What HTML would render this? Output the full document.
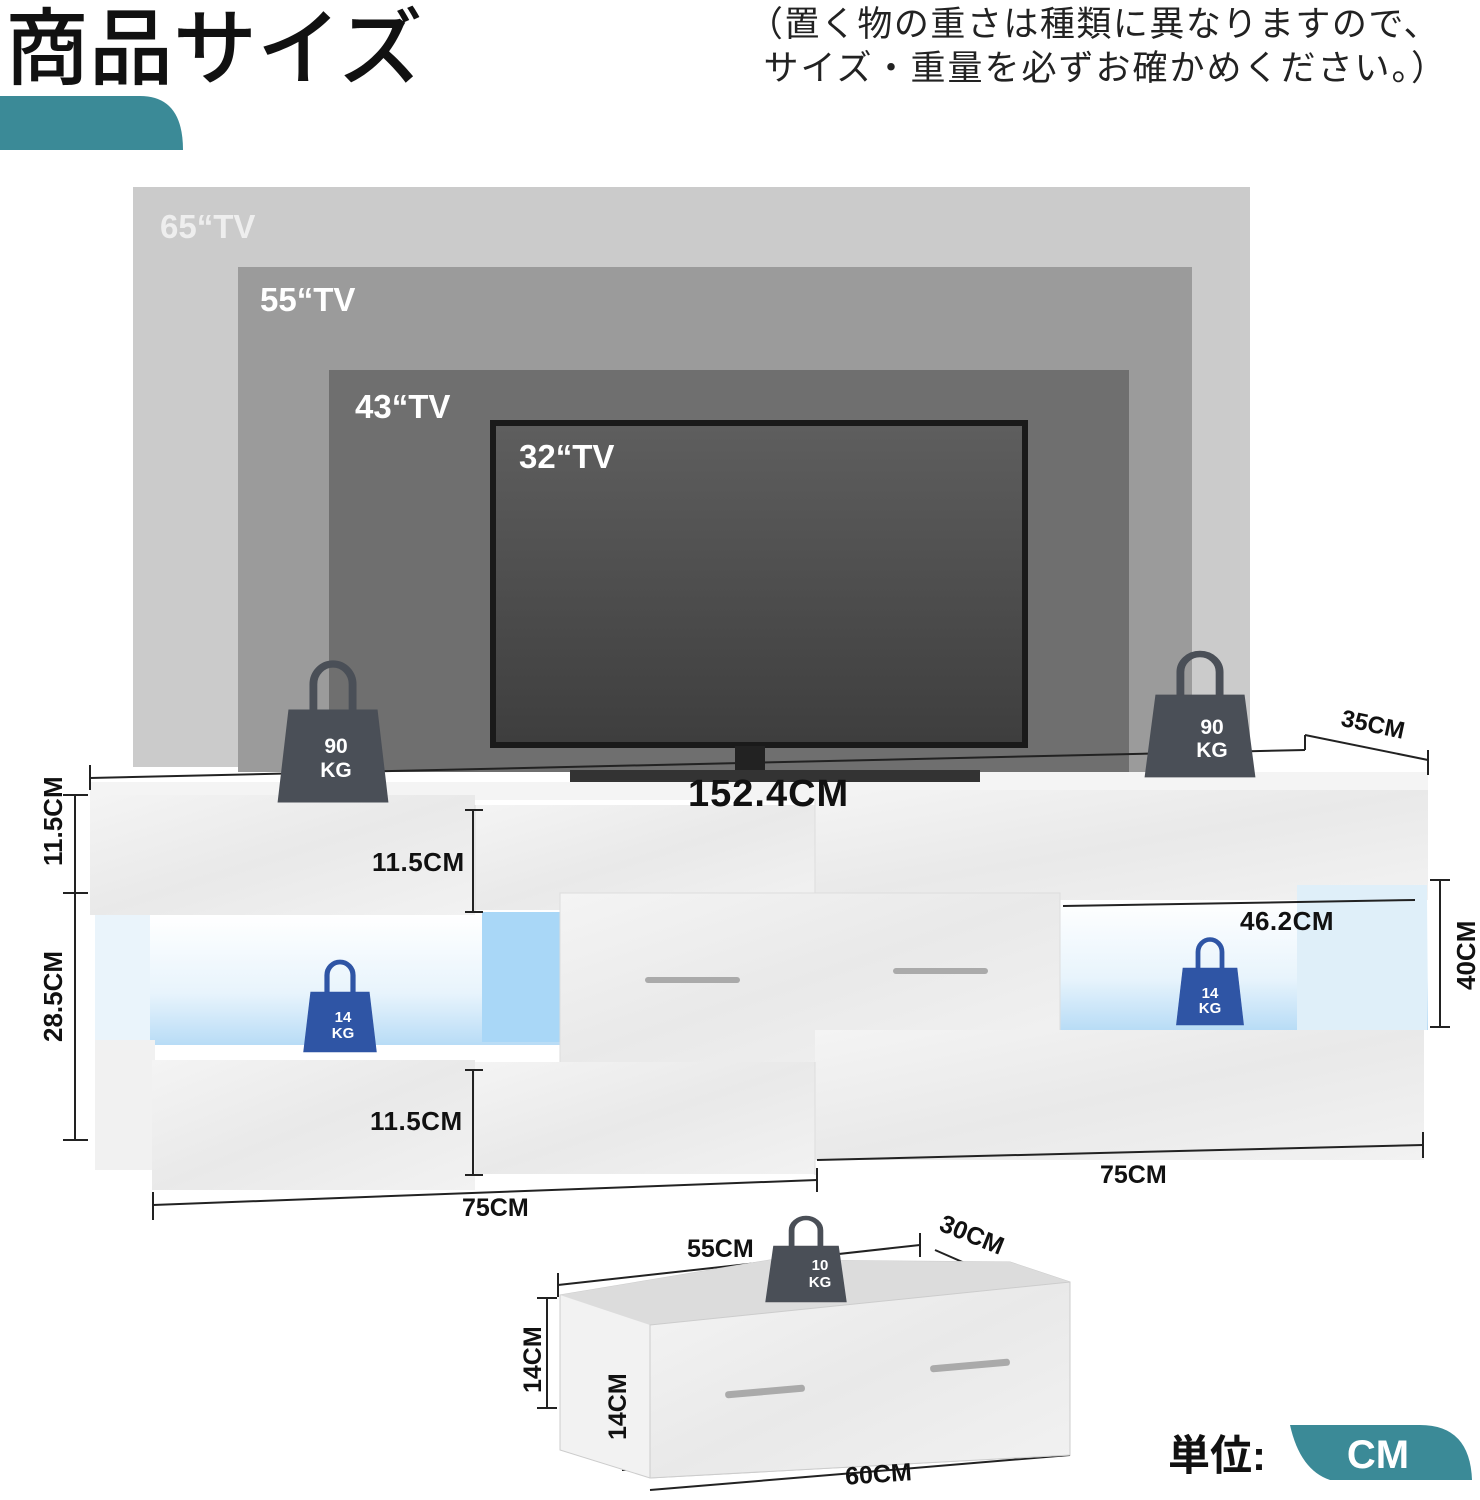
<!DOCTYPE html>
<html><head><meta charset="utf-8">
<style>
html,body{margin:0;padding:0;background:#fff;}
svg{display:block;}
text{font-family:"Liberation Sans","Noto Sans CJK JP",sans-serif;font-weight:bold;}
</style></head><body>
<svg width="1480" height="1500" viewBox="0 0 1480 1500" xmlns="http://www.w3.org/2000/svg">
<defs>
<linearGradient id="scr" x1="0" y1="0" x2="0" y2="1"><stop offset="0" stop-color="#5e5e5e"/><stop offset="1" stop-color="#3e3e3e"/></linearGradient>
<linearGradient id="wh" x1="0" y1="0" x2="1" y2="1"><stop offset="0" stop-color="#f4f4f4"/><stop offset="0.5" stop-color="#e9e9e9"/><stop offset="1" stop-color="#f2f2f2"/></linearGradient>
<linearGradient id="blue" x1="0" y1="0" x2="0" y2="1"><stop offset="0" stop-color="#ffffff"/><stop offset="0.6" stop-color="#e8f4fc"/><stop offset="1" stop-color="#b8dcf6"/></linearGradient>
<g id="wt"><path d="M-20,2 L-20,-28 A20,22 0 0 1 20,-28 L20,2" fill="none" stroke-width="8"/><path d="M-45,0 L45,0 L56,100 L-56,100 Z"/></g>
</defs>
<!-- title -->
<text x="5" y="78" font-size="84" style="font-weight:500" fill="#111">商品サイズ</text>
<path d="M0,96 L140,96 Q183,96 183,150 L0,150 Z" fill="#3b8a97"/>
<text x="1440" y="36" font-size="35" style="font-weight:normal" fill="#222" text-anchor="end" letter-spacing="1.5">（置く物の重さは種類に異なりますので、</text>
<text x="1448" y="80" font-size="35" style="font-weight:normal" fill="#222" text-anchor="end" letter-spacing="2">サイズ・重量を必ずお確かめください。）</text>
<!-- TVs -->
<rect x="133" y="187" width="1117" height="580" fill="#cbcbcb"/>
<rect x="238" y="267" width="954" height="505" fill="#9b9b9b"/>
<rect x="329" y="370" width="800" height="402" fill="#6f6f6f"/>
<rect x="490" y="420" width="538" height="328" fill="#1a1a1a"/>
<rect x="496" y="426" width="526" height="316" fill="url(#scr)"/>
<rect x="735" y="746" width="30" height="24" fill="#222"/>
<rect x="570" y="770" width="410" height="12" fill="#333"/>
<text x="160" y="238" font-size="33" fill="#eee">65“TV</text>
<text x="260" y="311" font-size="33" fill="#fff">55“TV</text>
<text x="355" y="418" font-size="33" fill="#fff">43“TV</text>
<text x="519" y="468" font-size="33" fill="#fff">32“TV</text>
<!-- stand -->
<rect x="90" y="782" width="480" height="18" fill="#f4f4f4"/>
<rect x="570" y="782" width="410" height="18" fill="#f4f4f4"/>
<rect x="980" y="772" width="448" height="28" fill="#f4f4f4"/>
<rect x="90" y="795" width="385" height="120" fill="url(#wh)"/>
<rect x="475" y="805" width="340" height="105" fill="url(#wh)"/>
<rect x="815" y="790" width="613" height="110" fill="url(#wh)"/>
<line x1="475" y1="805" x2="475" y2="912" stroke="#ddd"/>
<line x1="815" y1="800" x2="815" y2="900" stroke="#ddd"/>
<rect x="95" y="915" width="470" height="130" fill="url(#blue)"/>
<rect x="95" y="915" width="55" height="130" fill="#eaf4fb"/>
<rect x="482" y="912" width="78" height="130" fill="#a9d7f7"/>
<rect x="1060" y="900" width="368" height="130" fill="url(#blue)"/>
<rect x="1297" y="885" width="130" height="145" fill="#dfeff9"/>
<rect x="560" y="893" width="500" height="170" fill="url(#wh)" stroke="#ddd"/>
<rect x="645" y="977" width="95" height="6" rx="3" fill="#aaa"/>
<rect x="893" y="968" width="95" height="6" rx="3" fill="#aaa"/>
<rect x="95" y="1040" width="60" height="130" fill="#f1f1f1"/>
<rect x="152" y="1060" width="323" height="130" fill="url(#wh)"/>
<rect x="475" y="1062" width="340" height="112" fill="url(#wh)"/>
<rect x="815" y="1030" width="609" height="130" fill="url(#wh)"/>
<line x1="815" y1="1062" x2="815" y2="1175" stroke="#ddd"/>
<!-- dimension lines -->
<g stroke="#222" stroke-width="2" fill="none">
<line x1="90" y1="778" x2="1305" y2="750"/><line x1="90" y1="765" x2="90" y2="790"/>
<line x1="1305" y1="735" x2="1428" y2="760"/><line x1="1305" y1="735" x2="1305" y2="750"/><line x1="1428" y1="750" x2="1428" y2="775"/>
<line x1="75" y1="795" x2="75" y2="1140"/><line x1="63" y1="795" x2="88" y2="795"/><line x1="63" y1="893" x2="88" y2="893"/><line x1="63" y1="1140" x2="88" y2="1140"/>
<line x1="473" y1="810" x2="473" y2="912"/><line x1="465" y1="810" x2="483" y2="810"/><line x1="465" y1="912" x2="483" y2="912"/>
<line x1="473" y1="1070" x2="473" y2="1175"/><line x1="465" y1="1070" x2="483" y2="1070"/><line x1="465" y1="1175" x2="483" y2="1175"/>
<line x1="1440" y1="880" x2="1440" y2="1027"/><line x1="1430" y1="880" x2="1450" y2="880"/><line x1="1430" y1="1027" x2="1450" y2="1027"/>
<line x1="1063" y1="906" x2="1415" y2="900"/>
<line x1="153" y1="1205" x2="817" y2="1180"/><line x1="153" y1="1192" x2="153" y2="1220"/><line x1="817" y1="1168" x2="817" y2="1192"/>
<line x1="817" y1="1160" x2="1423" y2="1145"/><line x1="1423" y1="1132" x2="1423" y2="1158"/>
<line x1="558" y1="1285" x2="920" y2="1245"/><line x1="558" y1="1273" x2="558" y2="1297"/><line x1="920" y1="1233" x2="920" y2="1257"/>
<line x1="935" y1="1250" x2="1015" y2="1285"/>
<line x1="547" y1="1298" x2="547" y2="1408"/><line x1="537" y1="1298" x2="557" y2="1298"/><line x1="537" y1="1408" x2="557" y2="1408"/>
<line x1="632" y1="1335" x2="632" y2="1470"/><line x1="622" y1="1335" x2="642" y2="1335"/><line x1="622" y1="1470" x2="642" y2="1470"/>
<line x1="650" y1="1490" x2="1070" y2="1455"/>
</g>
<!-- drawer -->
<path d="M560,1295 L770,1260 L1010,1262 L1070,1282 L1070,1455 L650,1478 L560,1450 Z" fill="#f2f2f2" stroke="#ccc"/>
<path d="M560,1295 L650,1325 L1070,1282 L1010,1262 L770,1260 Z" fill="#dcdcdc"/>
<path d="M650,1325 L1070,1282 L1070,1455 L650,1478 Z" fill="url(#wh)" stroke="#ccc"/>
<rect x="725" y="1388" width="80" height="7" rx="3" fill="#aaa" transform="rotate(-5 765 1391)"/>
<rect x="930" y="1362" width="80" height="7" rx="3" fill="#aaa" transform="rotate(-5 970 1365)"/>
<!-- weights -->
<g fill="#4a4f57" stroke="#4a4f57"><use href="#wt" transform="translate(333,710) scale(0.98,0.92)"/><use href="#wt" transform="translate(1200,695) scale(0.98,0.82)"/><use href="#wt" transform="translate(806,1246) scale(0.72,0.56)"/></g>
<g fill="#2f55a5" stroke="#2f55a5"><use href="#wt" transform="translate(340,992) scale(0.65,0.6)"/><use href="#wt" transform="translate(1210,968) scale(0.6,0.57)"/></g>
<g fill="#fff" text-anchor="middle">
<text x="336" y="753" font-size="21">90</text><text x="336" y="777" font-size="21">KG</text>
<text x="1212" y="734" font-size="21">90</text><text x="1212" y="757" font-size="21">KG</text>
<text x="343" y="1022" font-size="15">14</text><text x="343" y="1038" font-size="15">KG</text>
<text x="1210" y="998" font-size="15">14</text><text x="1210" y="1013" font-size="15">KG</text>
<text x="820" y="1270" font-size="15">10</text><text x="820" y="1287" font-size="15">KG</text>
</g>
<!-- labels -->
<g fill="#111">
<text x="688" y="806" font-size="38" letter-spacing="1">152.4CM</text>
<text x="1340" y="734" font-size="24" transform="rotate(12 1380 730)">35CM</text>
<text x="372" y="871" font-size="26" letter-spacing="0.5">11.5CM</text>
<text x="370" y="1130" font-size="26" letter-spacing="0.5">11.5CM</text>
<text x="1240" y="930" font-size="26" letter-spacing="0.5">46.2CM</text>
<text x="462" y="1216" font-size="25">75CM</text>
<text x="1100" y="1183" font-size="25">75CM</text>
<text x="687" y="1257" font-size="25">55CM</text>
<text x="935" y="1245" font-size="25" transform="rotate(22 975 1245)">30CM</text>
<text x="845" y="1482" font-size="25" transform="rotate(-4 885 1472)">60CM</text>
<text transform="translate(62,866) rotate(-90)" font-size="26">11.5CM</text>
<text transform="translate(62,1042) rotate(-90)" font-size="26">28.5CM</text>
<text transform="translate(1475,990) rotate(-90)" font-size="26">40CM</text>
<text transform="translate(541,1393) rotate(-90)" font-size="25">14CM</text>
<text transform="translate(626,1440) rotate(-90)" font-size="25">14CM</text>
<text x="1168" y="1470" font-size="42">単位:</text>
</g>
<path d="M1290,1425 L1420,1425 Q1470,1425 1472,1480 L1330,1480 Q1300,1470 1290,1425 Z" fill="#3b8a97"/>
<text x="1378" y="1468" font-size="40" fill="#fff" text-anchor="middle">CM</text>
</svg>
</body></html>
